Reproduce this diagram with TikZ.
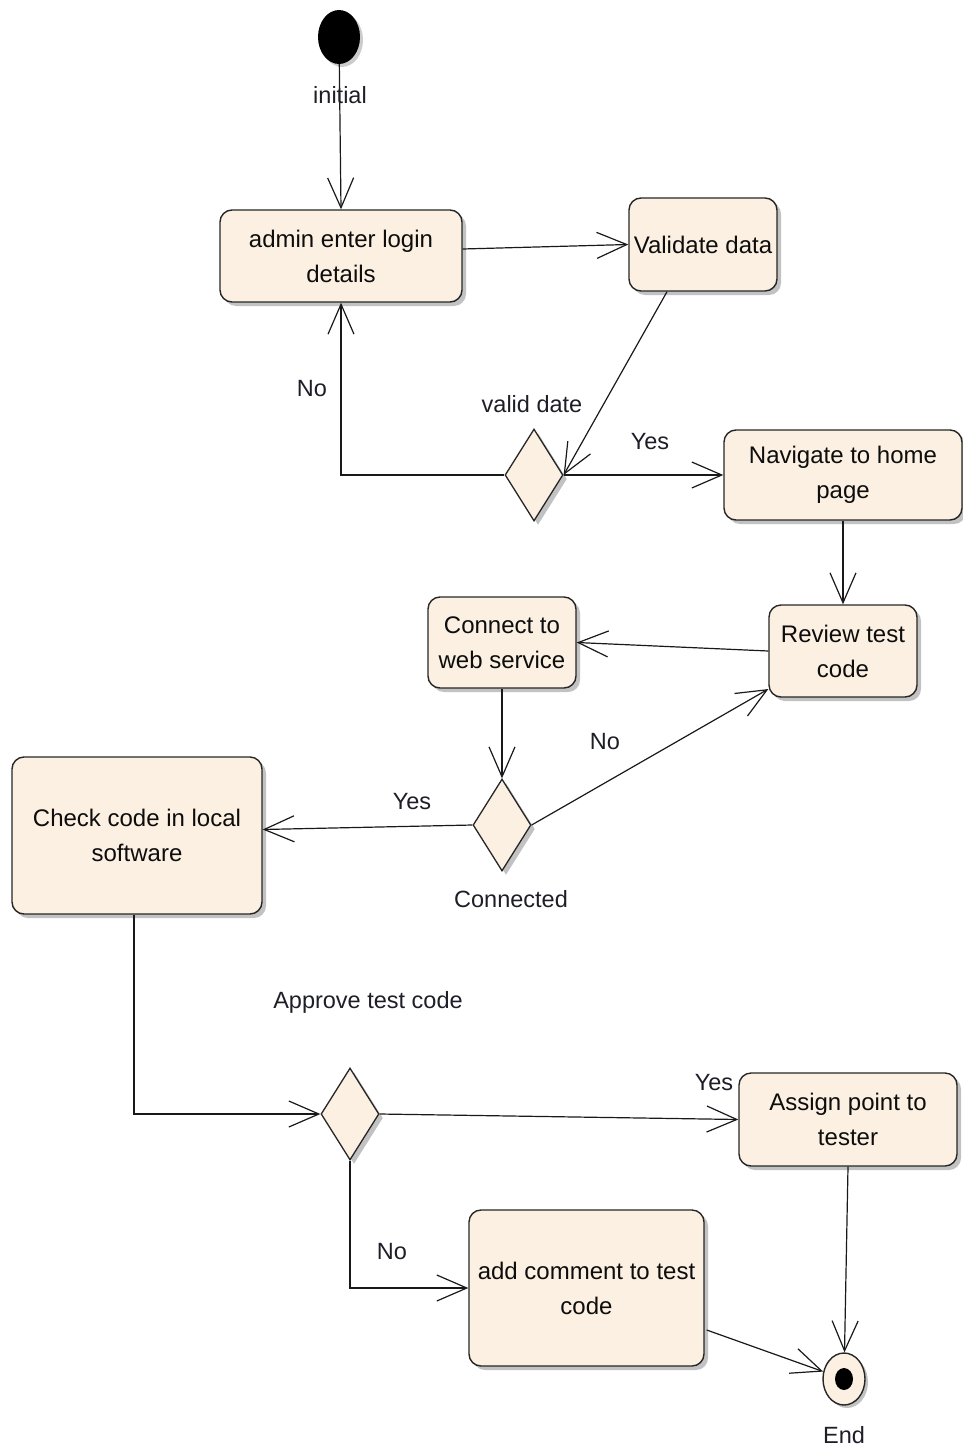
\documentclass[tikz,border=0pt]{standalone}
\usepackage{fontspec}
\setmainfont{Liberation Sans}
\usetikzlibrary{arrows.meta,shapes.geometric,shadows,calc}
\definecolor{cream}{RGB}{251,240,226}
\definecolor{lbl}{RGB}{30,30,40}
\tikzset{
  act/.style={draw=black!85, line width=1.4pt, fill=cream, rounded corners=12pt, align=center,
    inner sep=0pt, text=black!95, font=\fontsize{24}{35}\selectfont,
    drop shadow={shadow xshift=4pt, shadow yshift=-4pt, fill=black!40, opacity=0.6}},
  dec/.style={draw=black!85, line width=1.3pt, fill=cream, shape=diamond, inner sep=0pt,
    minimum width=58pt, minimum height=92pt,
    drop shadow={shadow xshift=4pt, shadow yshift=-4pt, fill=black!40, opacity=0.6}},
  conn/.style={line width=1.2pt, draw=black!90, -{Straight Barb[length=30pt,width=26pt,line width=1.2pt]}},
  lab/.style={text=lbl, font=\fontsize{23.5}{26}\selectfont, inner sep=0pt}
}
\begin{document}
\begin{tikzpicture}[x=1pt,y=-1pt]
\useasboundingbox (0,0) rectangle (963,1450);
% nodes
\node[shape=ellipse, fill=black, minimum width=42pt, minimum height=54pt, inner sep=0pt,
  drop shadow={shadow xshift=3pt, shadow yshift=-3pt, fill=black!40, opacity=0.5}] (init) at (339,37) {};
\node[act, minimum width=242pt, minimum height=92pt] (adm) at (341,256) {admin enter login\\details};
\node[act, minimum width=148pt, minimum height=93pt] (val) at (703,244.5) {Validate data};
\node[dec] (d1) at (534,475) {};
\node[act, minimum width=238pt, minimum height=90pt] (nav) at (843,475) {Navigate to home\\page};
\node[act, minimum width=148pt, minimum height=92pt] (rev) at (843,651) {Review test\\code};
\node[act, minimum width=148pt, minimum height=91pt] (con) at (502,642.5) {Connect to\\web service};
\node[dec] (d2) at (502,825) {};
\node[act, minimum width=250pt, minimum height=157pt] (chk) at (137,835.5) {Check code in local\\software};
\node[dec] (d3) at (350,1114) {};
\node[act, minimum width=218pt, minimum height=93pt] (asg) at (848,1119.5) {Assign point to\\tester};
\node[act, minimum width=235pt, minimum height=156pt] (add) at (586.5,1288) {add comment to test\\code};
\node[shape=ellipse, draw=black!85, line width=1.4pt, fill=cream, minimum width=42pt, minimum height=52pt, inner sep=0pt,
  drop shadow={shadow xshift=3pt, shadow yshift=-3pt, fill=black!40, opacity=0.6}] (end) at (844,1379) {};
\node[shape=ellipse, fill=black, minimum width=18pt, minimum height=22pt, inner sep=0pt] (endin) at (844,1379) {};
% connectors
\draw[conn] (init) -- (adm.north);
\draw[conn] ($(adm.east)+(0,-7)$) -- (val.west);
\draw[conn] ($(val.south)+(-36,0)$) -- (d1.east);
\draw[conn] (d1.west) -| (adm.south);
\draw[conn] (d1.east) -- (nav.west);
\draw[conn] (nav.south) -- (rev.north);
\draw[conn] (rev.west) -- (con.east);
\draw[conn] (con.south) -- (d2.north);
\draw[conn] (d2.east) -- (rev.207);
\draw[conn] (d2.west) -- ($(chk.east)+(0,-6)$);
\draw[conn] ($(chk.south)+(-3,0)$) |- (d3.west);
\draw[conn] (d3.east) -- (asg.west);
\draw[conn] (d3.south) |- (add.west);
\draw[conn] ($(add.east)+(2,42)$) -- (end);
\draw[conn] (asg.south) -- (end);
% labels
\node[lab] (linit) at (340,95) {initial};
\node[lab] (lno1) at (312,389) {No};
\node[lab] (lvd) at (532,404) {valid date};
\node[lab] (lyes1) at (650,442) {Yes};
\node[lab] (lno2) at (605,742) {No};
\node[lab] (lyes2) at (412,802) {Yes};
\node[lab] (lconn) at (511,899) {Connected};
\node[lab] (lapp) at (368,1002) {Approve test code};
\node[lab] (lyes3) at (714,1083) {Yes};
\node[lab] (lno3) at (392,1252) {No};
\node[lab] (lend) at (844,1435) {End};
\end{tikzpicture}
\end{document}
